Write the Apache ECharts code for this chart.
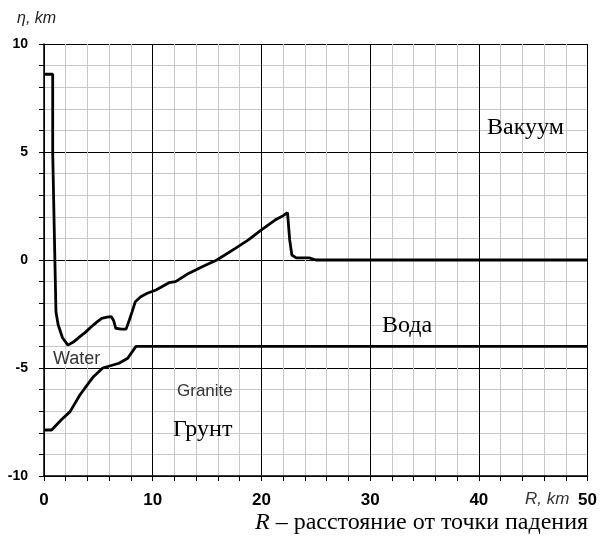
<!DOCTYPE html>
<html>
<head>
<meta charset="utf-8">
<script src="https://cdn.jsdelivr.net/npm/echarts@6/dist/echarts.min.js"></script>
<style>
  html, body { margin: 0; padding: 0; background: #fff; }
  #chart { width: 600px; height: 536px; }
</style>
</head>
<body>
<div id="chart"></div>
<script>
// Free surface of the water layer, eta(R)
const surfaceR   = [0, 0.8, 0.8, 0.95, 0.95, 1.1, 1.1, 1.3, 1.7, 2.2, 2.7, 3.3, 3.8, 4.35, 4.8, 5.3, 5.8, 6.2, 6.4, 6.6, 7.1, 7.55, 7.85, 8.1, 8.4, 8.9, 9.5, 10.3, 11.5, 12.1, 13.3, 14.55, 15.9, 17.6, 18.8, 20.0, 21.25, 22.0, 22.4, 22.6, 22.8, 23.2, 24.4, 25, 50];
const surfaceEta = [8.6, 8.6, 5.0, 5.0, 1.25, 1.25, -2.4, -3.0, -3.6, -3.94, -3.8, -3.55, -3.35, -3.09, -2.9, -2.7, -2.65, -2.62, -2.8, -3.16, -3.2, -3.2, -2.78, -2.4, -1.93, -1.7, -1.54, -1.39, -1.05, -1.0, -0.62, -0.31, 0, 0.54, 0.93, 1.39, 1.85, 2.05, 2.19, 0.93, 0.23, 0.1, 0.1, 0, 0];

// Water / granite boundary
const bedR   = [0, 0.7, 1.6, 2.4, 3.3, 4.2, 4.5, 5.4, 6.9, 7.7, 8.46, 50];
const bedEta = [-7.87, -7.87, -7.4, -7.02, -6.25, -5.63, -5.43, -5.0, -4.78, -4.55, -4.0, -4.0];

// Axis ranges and steps
const rRange = [0, 50];
const etaRange = [-10, 10];
const rMinorStep = 2, rMajorStep = 10;
const etaMinorStep = 1, etaMajorStep = 5;

const pairs = (xs, ys) => xs.map((x, i) => [x, ys[i]]);

const labelFont = '"Liberation Sans Narrow", "Liberation Sans", Arial, sans-serif';
const serif = '"Liberation Serif", "Times New Roman", serif';
const sans = '"Liberation Sans", Arial, sans-serif';

const chart = echarts.init(document.getElementById('chart'), null, { renderer: 'canvas' });

chart.setOption({
  animation: false,
  backgroundColor: '#fff',
  grid: { left: 44, right: 8, top: 44, bottom: 60, containLabel: false },
  xAxis: [
    {
      type: 'value', min: rRange[0], max: rRange[1], interval: rMinorStep, position: 'bottom',
      axisLine: { show: true, onZero: false, lineStyle: { color: '#000', width: 1.5 } },
      axisTick: { show: true, inside: false, length: 5, lineStyle: { color: '#000', width: 1 } },
      axisLabel: { show: false },
      splitLine: { show: true, lineStyle: { color: '#c8c8c8', width: 1 } }
    },
    {
      type: 'value', min: rRange[0], max: rRange[1], interval: rMajorStep, position: 'bottom',
      axisLine: { show: false }, axisTick: { show: false },
      axisLabel: { show: true, margin: 16, color: '#000', fontWeight: 'bold', fontSize: 17, fontFamily: labelFont },
      splitLine: { show: true, lineStyle: { color: '#000', width: 1 } }
    }
  ],
  yAxis: [
    {
      type: 'value', min: etaRange[0], max: etaRange[1], interval: etaMinorStep, position: 'left',
      axisLine: { show: true, onZero: false, lineStyle: { color: '#000', width: 1.5 } },
      axisTick: { show: true, inside: false, length: 5, lineStyle: { color: '#000', width: 1 } },
      axisLabel: { show: false },
      splitLine: { show: true, lineStyle: { color: '#c8c8c8', width: 1 } }
    },
    {
      type: 'value', min: etaRange[0], max: etaRange[1], interval: etaMajorStep, position: 'left',
      axisLine: { show: false }, axisTick: { show: false },
      axisLabel: { show: true, margin: 16, color: '#000', fontWeight: 'bold', fontSize: 14, fontFamily: labelFont },
      splitLine: { show: true, lineStyle: { color: '#000', width: 1 } }
    }
  ],
  series: [
    {
      name: 'surface', type: 'line', xAxisIndex: 0, yAxisIndex: 0,
      data: pairs(surfaceR, surfaceEta), showSymbol: false, smooth: false,
      lineStyle: { color: '#000', width: 2.8 }, z: 5
    },
    {
      name: 'bed', type: 'line', xAxisIndex: 0, yAxisIndex: 0,
      data: pairs(bedR, bedEta), showSymbol: false, smooth: false,
      lineStyle: { color: '#000', width: 2.8 }, z: 5
    }
  ],
  graphic: {
    type: 'group', z: 100,
    children: [
      { type: 'text', z: 100, x: 17, y: 11, style: { text: 'η, km', font: 'italic 16px ' + sans, fill: '#222' } },
      { type: 'text', z: 100, x: 487, y: 128, style: { text: 'Вакуум', font: '24px ' + serif, fill: '#000', verticalAlign: 'middle' } },
      { type: 'text', z: 100, x: 382, y: 326, style: { text: 'Вода', font: '24px ' + serif, fill: '#000', verticalAlign: 'middle' } },
      { type: 'text', z: 100, x: 173, y: 430, style: { text: 'Грунт', font: '24px ' + serif, fill: '#000', verticalAlign: 'middle' } },
      { type: 'text', z: 100, x: 177, y: 391, style: { text: 'Granite', font: '17px ' + sans, fill: '#333', verticalAlign: 'middle' } },
      { type: 'text', z: 100, x: 53, y: 359, style: { text: 'Water', font: '18px ' + sans, fill: '#333', verticalAlign: 'middle' } },
      { type: 'text', z: 100, x: 525, y: 499, style: { text: 'R, km', font: 'italic 17px ' + sans, fill: '#333', verticalAlign: 'middle' } },
      {
        type: 'text', z: 100, x: 255, y: 523,
        style: {
          text: '{i|R} – расстояние от точки падения',
          font: '24px ' + serif, fill: '#000', verticalAlign: 'middle',
          rich: { i: { fontStyle: 'italic', fontSize: 24, fontFamily: serif } }
        }
      }
    ]
  }
});
</script>
</body>
</html>
